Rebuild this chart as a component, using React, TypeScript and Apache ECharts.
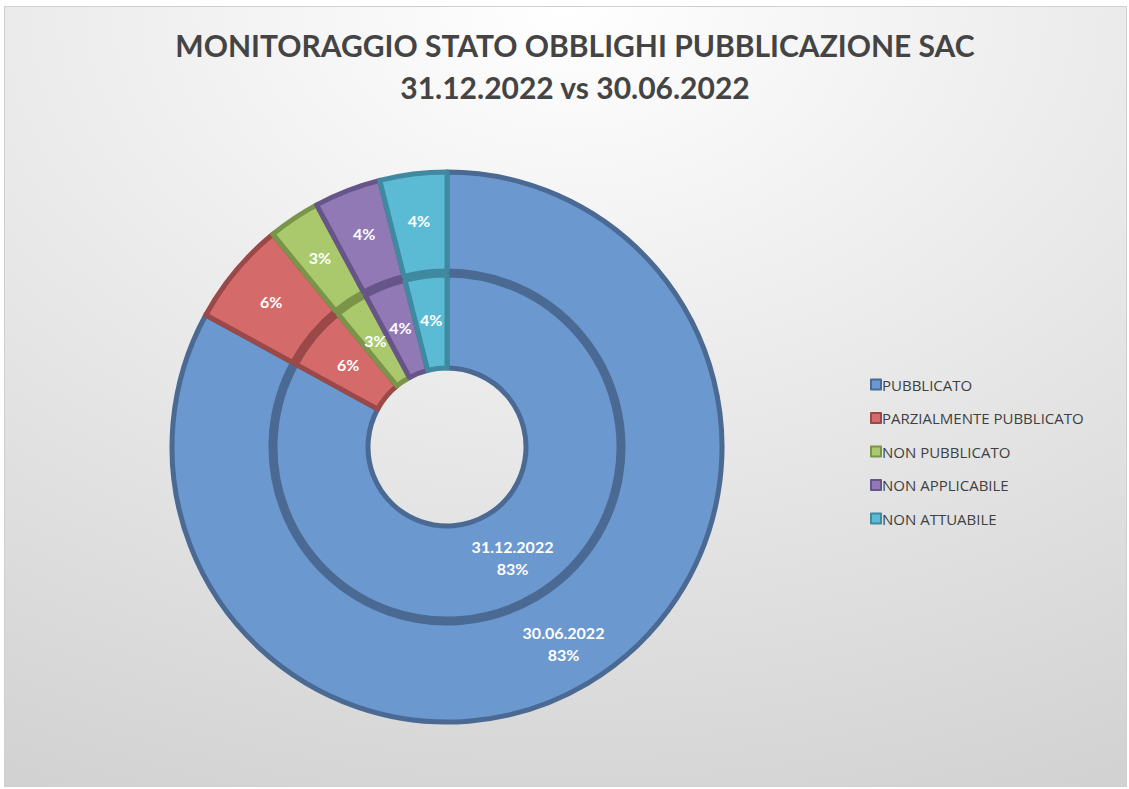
import React, { useEffect, useRef } from "react";
import * as echarts from "echarts";

const categories = [
  "PUBBLICATO",
  "PARZIALMENTE PUBBLICATO",
  "NON PUBBLICATO",
  "NON APPLICABILE",
  "NON ATTUABILE",
];
const valuesDic2022 = [190, 14, 7, 9, 9];
const valuesGiu2022 = [190, 14, 7, 9, 9];
const innerName = "31.12.2022";
const outerName = "30.06.2022";
const titleLines = ["MONITORAGGIO STATO OBBLIGHI PUBBLICAZIONE SAC", "31.12.2022 vs 30.06.2022"];

const colors = ["#6b98cf", "#d46a69", "#a9c96c", "#9179b6", "#5bbbd5"];
const darkColors = ["#4a6a93", "#9a4948", "#7a9449", "#67558a", "#3f8aa0"];

export default function App() {
  const ref = useRef<HTMLDivElement>(null);
  useEffect(() => {
    document.body.style.margin = "0";
    const chart = echarts.init(ref.current!, undefined, { renderer: "svg" });
    const font = "Lato, 'Open Sans', sans-serif";
    const mkData = (vals: number[]) =>
      vals.map((v, i) => ({
        name: categories[i],
        value: v,
        itemStyle: {
          color: colors[i],
          borderColor: darkColors[i],
          borderWidth: 5,
        },
      }));
    const labelFmt = (p: any) =>
      p.dataIndex === 0
        ? `${p.seriesName}\n${Math.round(p.percent)}%`
        : `${Math.round(p.percent)}%`;
    const label = {
      show: true,
      position: "inside",
      formatter: labelFmt,
      color: "#ffffff",
      fontFamily: font,
      fontSize: 16,
      fontWeight: "bold",
      lineHeight: 22,
    };
    chart.setOption({
      animation: false,
      color: colors,
      graphic: [
        {
          type: "rect",
          z: -10,
          shape: { x: 4.5, y: 6.5, width: 1122, height: 780 },
          style: {
            fill: {
              type: "radial",
              x: 0.5,
              y: 0,
              r: 1.1,
              colorStops: [
                { offset: 0, color: "#ffffff" },
                { offset: 1, color: "#d2d2d2" },
              ],
            },
            stroke: "#cfcfcf",
            lineWidth: 1,
          },
        },
      ],
      title: {
        text: titleLines.join("\n"),
        left: 570,
        top: 19,
        textAlign: "center",
        textStyle: {
          fontFamily: font,
          fontSize: 30,
          fontWeight: "bold",
          color: "#444444",
          lineHeight: 42,
        },
      },
      legend: {
        orient: "vertical",
        left: 870,
        top: 377,
        padding: 0,
        icon: "rect",
        itemWidth: 10,
        itemHeight: 10,
        itemGap: 18.5,
        data: categories,
        textStyle: {
          fontFamily: "'Open Sans', Lato, sans-serif",
          fontSize: 15,
          color: "#404040",
          lineHeight: 15,
          padding: [0, 0, 0, -4],
        },
      },
      series: [
        {
          type: "pie",
          name: innerName,
          center: [447, 447],
          radius: [79, 172],
          startAngle: 90,
          clockwise: true,
          percentPrecision: 0,
          label,
          labelLine: { show: false },
          emphasis: { disabled: true },
          data: mkData(valuesDic2022),
        },
        {
          type: "pie",
          name: outerName,
          center: [447, 447],
          radius: [176, 275],
          startAngle: 90,
          clockwise: true,
          percentPrecision: 0,
          label,
          labelLine: { show: false },
          emphasis: { disabled: true },
          data: mkData(valuesGiu2022),
        },
      ],
    });
    return () => chart.dispose();
  }, []);
  return <div ref={ref} style={{ width: 1129, height: 789 }} />;
}
